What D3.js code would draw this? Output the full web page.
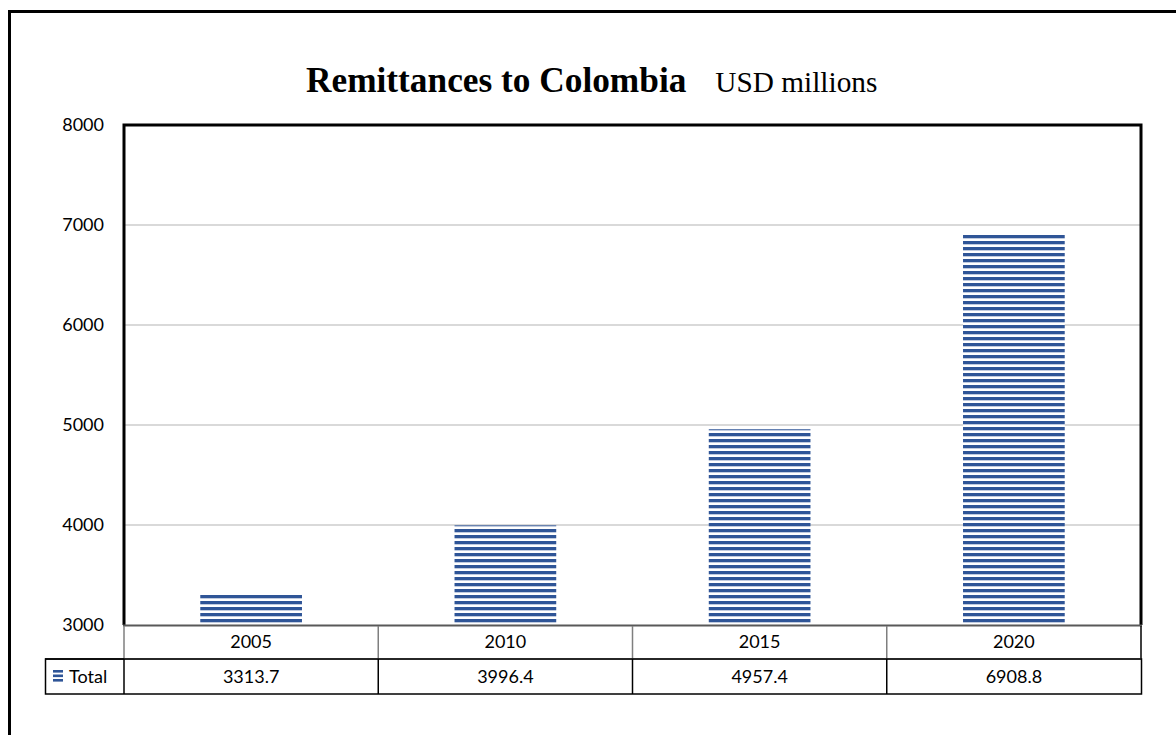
<!DOCTYPE html>
<html>
<head>
<meta charset="utf-8">
<script src="https://cdn.jsdelivr.net/npm/d3@7"></script>
<style>
  html, body { margin: 0; padding: 0; background: #fff; }
  svg { display: block; }
</style>
</head>
<body>
<svg id="chart" width="1176" height="735"></svg>
<script>
// Annual remittances received by Colombia, USD millions
const years = ["2005", "2010", "2015", "2020"];
const totals = [3313.7, 3996.4, 4957.4, 6908.8];
const yTicks = [3000, 4000, 5000, 6000, 7000, 8000];
const seriesName = "Total";

const svg = d3.select("#chart");
const W = 1176, H = 735;
const plot = { left: 124, right: 1141, top: 125, bottom: 625 };
const barColor = "#2F5597";
const labelFont = "Lato, 'Open Sans', sans-serif";

svg.append("rect").attr("width", W).attr("height", H).attr("fill", "#fff");

// Striped fill used by the bars and the legend key
const defs = svg.append("defs");
const pat = defs.append("pattern")
  .attr("id", "stripes")
  .attr("patternUnits", "userSpaceOnUse")
  .attr("width", 8).attr("height", 6)
  .attr("y", plot.bottom);
pat.append("rect").attr("width", 8).attr("height", 6).attr("fill", "#fff");
pat.append("rect").attr("y", 0).attr("width", 8).attr("height", 3.3).attr("fill", barColor);

// Outer chart frame (runs past the right and bottom edges)
svg.append("rect")
  .attr("x", 9.5).attr("y", 11.5)
  .attr("width", W + 20).attr("height", H + 20)
  .attr("fill", "none").attr("stroke", "#000").attr("stroke-width", 3);

// Scales
const x = d3.scaleBand().domain(years).range([plot.left, plot.right]).padding(0);
const y = d3.scaleLinear().domain([3000, 8000]).range([plot.bottom, plot.top]);
const barW = x.bandwidth() * 0.4;

// Gridlines
svg.append("g")
  .selectAll("line")
  .data(yTicks.filter(t => t > 3000 && t < 8000))
  .join("line")
  .attr("x1", plot.left).attr("x2", plot.right)
  .attr("y1", d => y(d)).attr("y2", d => y(d))
  .attr("stroke", "#d9d9d9").attr("stroke-width", 2);

// Y axis labels
const yAxis = d3.axisLeft(y).tickValues(yTicks).tickSize(0).tickPadding(20).tickFormat(d3.format("d"));
const gy = svg.append("g").attr("transform", `translate(${plot.left},0)`).call(yAxis);
gy.select(".domain").remove();
gy.selectAll("text")
  .attr("font-family", labelFont).attr("font-size", 18).attr("fill", "#000");

// Bars
svg.append("g")
  .selectAll("rect")
  .data(years.map((c, i) => ({ c, v: totals[i] })))
  .join("rect")
  .attr("x", d => x(d.c) + (x.bandwidth() - barW) / 2)
  .attr("y", d => y(d.v))
  .attr("width", barW)
  .attr("height", d => y(3000) - y(d.v))
  .attr("fill", "url(#stripes)");

// Plot area border: heavy on left, top, right; grey on the bottom
svg.append("path")
  .attr("d", `M${plot.left},${plot.bottom} V${plot.top} H${plot.right} V${plot.bottom}`)
  .attr("fill", "none").attr("stroke", "#000").attr("stroke-width", 3);
svg.append("line")
  .attr("x1", plot.left - 1).attr("x2", plot.right + 1)
  .attr("y1", plot.bottom + 0.5).attr("y2", plot.bottom + 0.5)
  .attr("stroke", "#595959").attr("stroke-width", 2);

// Data table beneath the plot
const row1 = { top: 626, bottom: 659 };
const row2 = { top: 659, bottom: 694 };
const legendLeft = 45;

const table = svg.append("g");
// category row: grey rules
table.selectAll("line.cat")
  .data(years)
  .join("line")
  .attr("class", "cat")
  .attr("x1", d => x(d)).attr("x2", d => x(d))
  .attr("y1", row1.top).attr("y2", row1.bottom)
  .attr("stroke", "#7f7f7f").attr("stroke-width", 1.5);
table.append("line")
  .attr("x1", plot.right).attr("x2", plot.right)
  .attr("y1", row1.top).attr("y2", row1.bottom)
  .attr("stroke", "#000").attr("stroke-width", 1.5);
table.append("line")
  .attr("x1", plot.left).attr("x2", plot.right)
  .attr("y1", row1.bottom).attr("y2", row1.bottom)
  .attr("stroke", "#7f7f7f").attr("stroke-width", 1.5);

// value row: black rules
table.append("rect")
  .attr("x", legendLeft + 0.5).attr("y", row2.top)
  .attr("width", plot.right - legendLeft).attr("height", row2.bottom - row2.top)
  .attr("fill", "none").attr("stroke", "#000").attr("stroke-width", 1.5);
table.selectAll("line.val")
  .data(years)
  .join("line")
  .attr("class", "val")
  .attr("x1", d => x(d)).attr("x2", d => x(d))
  .attr("y1", row2.top).attr("y2", row2.bottom)
  .attr("stroke", "#000").attr("stroke-width", 1.5);
table.append("line")
  .attr("x1", legendLeft).attr("x2", plot.left)
  .attr("y1", row2.top).attr("y2", row2.top)
  .attr("stroke", "#000").attr("stroke-width", 1.5);

table.selectAll("text.cat")
  .data(years)
  .join("text")
  .attr("class", "cat")
  .attr("x", d => x(d) + x.bandwidth() / 2)
  .attr("y", 648)
  .attr("text-anchor", "middle")
  .attr("font-family", labelFont).attr("font-size", 18)
  .text(d => d);

table.selectAll("text.val")
  .data(totals)
  .join("text")
  .attr("class", "val")
  .attr("x", (d, i) => x(years[i]) + x.bandwidth() / 2)
  .attr("y", 683)
  .attr("text-anchor", "middle")
  .attr("font-family", labelFont).attr("font-size", 18)
  .text(d => d3.format(".1f")(d));

// legend key
const key = table.append("g").attr("transform", "translate(53,670)");
[0, 4.5, 9].forEach(o => {
  key.append("rect").attr("x", 0).attr("y", o).attr("width", 10).attr("height", 2.6).attr("fill", barColor);
});
table.append("text")
  .attr("x", 69).attr("y", 683)
  .attr("font-family", labelFont).attr("font-size", 18)
  .text(seriesName);

// Title
const title = svg.append("text")
  .attr("x", 306).attr("y", 92)
  .attr("font-family", "'Liberation Serif', 'Times New Roman', serif")
  .attr("fill", "#000");
title.append("tspan").attr("font-weight", "bold").attr("font-size", 35.3).text("Remittances to Colombia");
title.append("tspan").attr("dx", 29).attr("font-size", 29.3).text("USD millions");
</script>
</body>
</html>
